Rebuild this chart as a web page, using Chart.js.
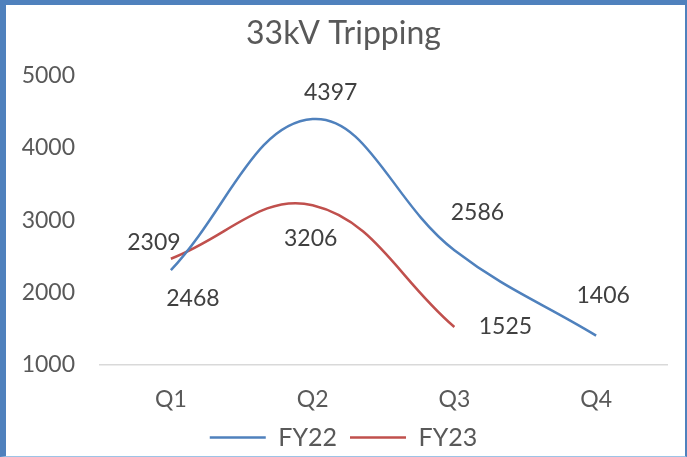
<!DOCTYPE html>
<html>
<head>
<meta charset="utf-8">
<script src="https://cdn.jsdelivr.net/npm/chart.js@4.4.1/dist/chart.umd.min.js"></script>
<style>
  html, body { margin: 0; padding: 0; background: #fff; }
  #wrap {
    width: 687px; height: 457px; box-sizing: border-box;
    border-left: 6px solid #4F81BD; border-top: 5px solid #4F81BD;
    border-right: 2px solid #4F81BD; border-bottom: 1px solid #9DC3E6;
    position: relative;
  }
  #chart { display: block; }
</style>
</head>
<body>
<div id="wrap"><canvas id="chart" width="679" height="451"></canvas></div>
<script>
const quarters = ['Q1', 'Q2', 'Q3', 'Q4'];
const fy22 = [2309, 4397, 2586, 1406];
const fy23 = [2468, 3206, 1525, null];
const yTicks = [1000, 2000, 3000, 4000, 5000];

// label nudges (px) so the numbers sit where the original put them
const labelShift = {
    0: [[-17, -28], [18, -26], [23, -38], [7, -40]],
    1: [[22, 40], [-2, 33], [51, 0], [0, 0]]
};

const FONT = 'Lato, "Open Sans", sans-serif';

const valueLabels = {
    id: 'valueLabels',
    afterDatasetsDraw(chart) {
        const ctx = chart.ctx;
        ctx.save();
        ctx.font = '23px ' + FONT;
        ctx.fillStyle = '#404040';
        ctx.textAlign = 'center';
        ctx.textBaseline = 'middle';
        chart.data.datasets.forEach((ds, i) => {
            chart.getDatasetMeta(i).data.forEach((pt, j) => {
                const v = ds.data[j];
                if (v == null) return;
                const [dx, dy] = labelShift[i][j];
                ctx.fillText(String(v), pt.x + dx, pt.y + dy);
            });
        });
        ctx.restore();
    }
};

new Chart(document.getElementById('chart'), {
    type: 'line',
    data: {
        labels: quarters,
        datasets: [
            { label: 'FY22', data: fy22, borderColor: '#4F81BD', backgroundColor: '#4F81BD',
              borderWidth: 2.5, tension: 0.4, pointRadius: 0 },
            { label: 'FY23', data: fy23, borderColor: '#C0504D', backgroundColor: '#C0504D',
              borderWidth: 2.5, tension: 0.4, pointRadius: 0 }
        ]
    },
    options: {
        responsive: false,
        animation: false,
        layout: { padding: { left: 14, right: 18, top: 0, bottom: 0 } },
        scales: {
            x: {
                offset: true,
                afterFit(axis) { axis.height = 47; },
                grid: { display: false, drawTicks: false },
                border: { display: true, color: '#D9D9D9', width: 1.5 },
                ticks: { color: '#595959', font: { family: FONT, size: 23, lineHeight: 1 }, padding: 23 }
            },
            y: {
                min: 1000, max: 5000,
                afterBuildTicks(axis) { axis.ticks = yTicks.map(v => ({ value: v })); },
                afterFit(axis) { axis.width = 80; },
                grid: { display: false, drawTicks: false },
                border: { display: false },
                ticks: { color: '#595959', font: { family: FONT, size: 23 }, padding: 25,
                         callback: v => String(v) }
            }
        },
        plugins: {
            title: {
                display: true, text: '33kV Tripping', color: '#595959',
                font: { family: FONT, size: 32, weight: 'normal' },
                padding: { top: 9, bottom: 23 }
            },
            legend: {
                position: 'bottom',
                maxHeight: 44,
                labels: {
                    color: '#595959', font: { family: FONT, size: 25 },
                    usePointStyle: true, pointStyle: 'line', pointStyleWidth: 56,
                    boxHeight: 25, padding: 13
                }
            },
            tooltip: { enabled: false }
        }
    },
    plugins: [valueLabels]
});
</script>
</body>
</html>
